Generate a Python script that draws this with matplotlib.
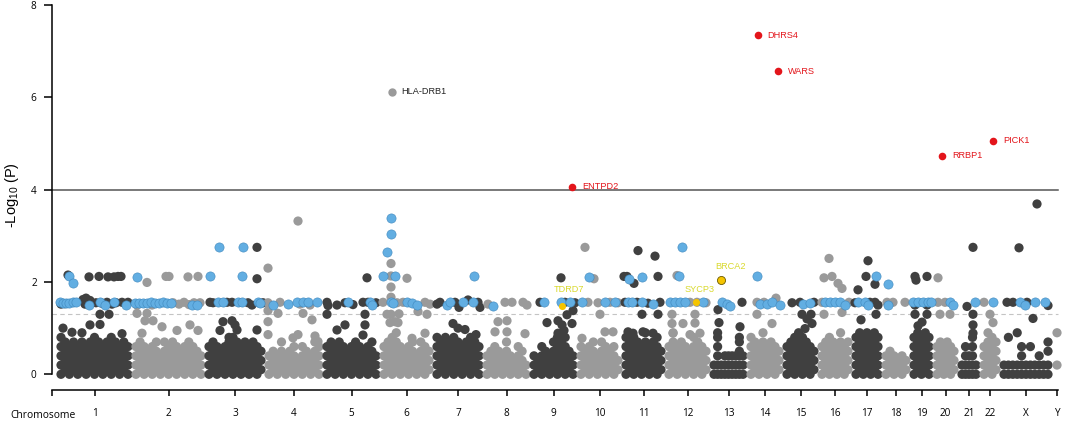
import numpy as np
import matplotlib
matplotlib.use("Agg")
import matplotlib.pyplot as plt

plt.rcParams["font.family"] = ["Liberation Sans", "DejaVu Sans"]
plt.rcParams["mathtext.fontset"] = "custom"
plt.rcParams["mathtext.rm"] = "Liberation Sans"
plt.rcParams["mathtext.it"] = "Liberation Sans:italic"

# chromosomes and their widths along the genome axis
chrom_names = ["1", "2", "3", "4", "5", "6", "7", "8", "9", "10", "11", "12",
               "13", "14", "15", "16", "17", "18", "19", "20", "21", "22", "X", "Y"]
chrom_len = [75, 73, 60, 58, 57, 53, 50, 47, 47, 45, 43, 45,
             37, 36, 35, 34, 30, 28, 23, 25, 22, 20, 52, 10]

# dense low-significance bulk: one string per chromosome, columns split by
# spaces, each digit d is a point at -log10(P) = d / 10
bulk = [
    "02468 1357 0246 1357 0246 13579 0246 1357 02468 1357 0246 1357 02468 1357 0246 1357 0246",
    "0246 1357 0246 135 0246 1357 024 1357 0246 1357 0246 135 0246 1357 0246 135 024",
    "0246 1357 0246 135 0246 13578 02468 1357 0246 1357 0246 1357 0246 135",
    "024 135 024 1357 024 135 0246 13 0246 135 024 1357 0246",
    "0246 1357 0246 1357 0246 135 0246 1357 0246 135 0246 1357 024",
    "0246 1357 02468 13579 0246 135 0246 1357 024 1357 0246 135",
    "02468 1357 02468 1357 02468 1357 0246 1357 02468 1357 0246",
    "024 135 0246 135 024 1357 024 13 0246 135 02",
    "024 13 0246 135 024 1357 02468 1357 02468 135 024",
    "0246 135 0246 1357 024 1357 0246 135 0246 13",
    "02468 1357 02468 1357 0246 13579 0246 1357 02468 135",
    "0246 13579 0246 1357 0246 135 02468 1357 0246 135",
    "02 024689 02 024 024 024 024 024578 024",
    "02468 1357 0246 13579 0246 1357 0246 135",
    "0246 1357 02468 13579 02468 1357 0246 135",
    "0246 1357 02468 1357 0246 13579 0246 1357",
    "02468 13579 02468 13579 02468 13579 02468",
    "024 135 024 13 024 13",
    "02468 13579 02468 13579 02468",
    "0246 1357 0246 1357 0246 135",
    "02 0246 024 02468 02",
    "0246 13579 02468 1357",
    "02 028 02 029 0246 02 026 02 024 02 0257",
    "29",
]

# (chromosome, position in chromosome, -log10 P) for points above the bulk
hits = [
    (1, 11, 2.15), (1, 32, 2.11), (1, 42, 2.12), (1, 51, 2.11), (1, 57, 2.11), (1, 61, 2.12), (1, 64, 2.12),
    (1, 4, 1.52), (1, 8, 1.53), (1, 26, 1.62), (1, 29, 1.65), (1, 33, 1.60), (1, 28, 1.52), (1, 39, 1.55),
    (1, 45, 1.54), (1, 50, 1.56), (1, 55, 1.52), (1, 59, 1.55), (1, 65, 1.56), (1, 69, 1.53), (1, 71, 1.56),
    (1, 43, 1.30), (1, 52, 1.30), (1, 33, 1.07), (1, 43, 1.08), (1, 6, 1.00), (1, 15, 0.91), (1, 65, 0.88),
    (2, 15, 1.99), (2, 34, 2.12), (2, 37, 2.12), (2, 56, 2.11), (2, 66, 2.12),
    (2, 5, 1.50), (2, 20, 1.50), (2, 41, 1.55), (2, 47, 1.52), (2, 52, 1.56), (2, 57, 1.51), (2, 62, 1.55),
    (2, 68, 1.55), (2, 5, 1.32), (2, 15, 1.32), (2, 13, 1.16), (2, 21, 1.16), (2, 30, 1.03), (2, 58, 1.07),
    (2, 45, 0.95), (2, 10, 0.89), (2, 66, 0.95),
    (3, 52, 2.75), (3, 52, 2.07), (3, 5, 1.56), (3, 8, 1.55), (3, 27, 1.56), (3, 43, 1.55), (3, 47, 1.50),
    (3, 58, 1.55), (3, 22, 1.56), (3, 18, 1.14), (3, 15, 0.95), (3, 27, 1.16), (3, 30, 1.07), (3, 32, 0.96),
    (3, 52, 0.96),
    (4, 33, 3.32), (4, 3, 2.30), (4, 3, 1.55), (4, 15, 1.56), (4, 35, 1.52), (4, 45, 1.50), (4, 3, 1.38),
    (4, 13, 1.32), (4, 38, 1.32), (4, 47, 1.18), (4, 3, 1.14), (4, 3, 0.86), (4, 28, 0.79), (4, 33, 0.86),
    (4, 50, 0.83), (4, 53, 0.71),
    (5, 44, 2.09), (5, 4, 1.56), (5, 5, 1.49), (5, 14, 1.50), (5, 22, 1.55), (5, 30, 1.51), (5, 40, 1.56),
    (5, 45, 1.56), (5, 53, 1.55), (5, 4, 1.30), (5, 42, 1.30), (5, 14, 0.96), (5, 22, 1.07), (5, 40, 0.85),
    (5, 42, 1.07),
    (6, 11, 2.40), (6, 11, 2.13), (6, 27, 2.08), (6, 11, 1.89), (6, 11, 1.67), (6, 3, 1.56), (6, 17, 1.55),
    (6, 23, 1.56), (6, 45, 1.56), (6, 50, 1.52), (6, 7, 1.30), (6, 11, 1.30), (6, 15, 1.14), (6, 19, 1.31),
    (6, 10, 1.12), (6, 18, 1.12), (6, 38, 1.36), (6, 47, 1.30), (6, 32, 0.78), (6, 45, 0.89),
    (7, 4, 1.52), (7, 7, 1.56), (7, 22, 1.56), (7, 35, 1.61), (7, 45, 1.56), (7, 47, 1.45), (7, 26, 1.45),
    (7, 20, 1.10), (7, 25, 1.00), (7, 32, 0.97), (7, 43, 0.86),
    (8, 5, 1.52), (8, 22, 1.56), (8, 29, 1.56), (8, 40, 1.56), (8, 44, 1.50), (8, 15, 1.14), (8, 24, 1.16),
    (8, 12, 0.92), (8, 24, 0.92), (8, 42, 0.88),
    (9, 31, 2.09), (9, 10, 1.56), (9, 35, 1.56), (9, 45, 1.55), (9, 43, 1.38), (9, 37, 1.29), (9, 17, 1.12),
    (9, 28, 1.16), (9, 32, 1.07), (9, 42, 1.10), (9, 28, 0.89), (9, 34, 0.95),
    (10, 8, 2.75), (10, 17, 2.07), (10, 11, 1.56), (10, 21, 1.55), (10, 33, 1.56), (10, 41, 1.55),
    (10, 23, 1.30), (10, 5, 0.78), (10, 28, 0.92), (10, 36, 0.92),
    (11, 16, 2.68), (11, 33, 2.56), (11, 2, 2.12), (11, 5, 2.12), (11, 12, 1.97), (11, 36, 2.12),
    (11, 15, 1.56), (11, 26, 1.54), (11, 38, 1.56), (11, 3, 1.56), (11, 20, 1.30), (11, 36, 1.30),
    (11, 6, 0.92), (11, 11, 0.89), (11, 21, 0.92), (11, 31, 0.89),
    (12, 12, 2.14), (12, 25, 1.56), (12, 32, 1.56), (12, 41, 1.55), (12, 7, 1.30), (12, 30, 1.30),
    (12, 18, 1.10), (12, 30, 1.11), (12, 35, 0.89), (12, 7, 1.10), (12, 8, 0.89), (12, 25, 0.86),
    (13, 8, 1.40), (13, 32, 1.56), (13, 9, 1.12), (13, 30, 1.03),
    (14, 10, 1.56), (14, 29, 1.65), (14, 17, 1.56), (14, 10, 1.30), (14, 25, 1.10),
    (15, 17, 1.56), (15, 31, 1.56), (15, 9, 1.55), (15, 19, 1.30), (15, 28, 1.30), (15, 22, 0.99),
    (15, 29, 1.10), (15, 24, 1.20),
    (16, 11, 2.51), (16, 6, 2.09), (16, 14, 2.12), (16, 20, 1.97), (16, 24, 1.86), (16, 4, 1.56),
    (16, 31, 1.56), (16, 6, 1.30), (16, 24, 1.34),
    (17, 16, 2.46), (17, 14, 2.12), (17, 23, 1.95), (17, 6, 1.83), (17, 23, 1.56), (17, 18, 1.56),
    (17, 3, 1.55), (17, 26, 1.50), (17, 24, 1.30), (17, 9, 1.18),
    (18, 11, 1.56), (18, 23, 1.56), (18, 5, 1.56),
    (19, 5, 2.12), (19, 6, 2.04), (19, 17, 2.12), (19, 5, 1.30), (19, 17, 1.30), (19, 8, 1.05),
    (19, 12, 1.13), (19, 5, 1.50), (19, 17, 1.50),
    (20, 5, 2.09), (20, 5, 1.56), (20, 12, 1.56), (20, 7, 1.30), (20, 17, 1.30),
    (21, 15, 2.75), (21, 9, 1.47), (21, 15, 1.30), (21, 15, 1.07), (21, 15, 0.89),
    (22, 4, 1.56), (22, 10, 1.30), (22, 13, 1.12),
    (23, 19, 2.74), (23, 37, 3.69), (23, 7, 1.56), (23, 13, 1.56), (23, 48, 1.49), (23, 33, 1.21),
    (23, 27, 1.56),
]

# highlighted (blue) points
blue_hits = [
    (1, 12, 2.12), (1, 16, 1.97), (1, 3, 1.56), (1, 6, 1.55), (1, 9, 1.55), (1, 12, 1.55), (1, 16, 1.56),
    (1, 19, 1.56), (1, 32, 1.50), (1, 43, 1.56), (1, 48, 1.50), (1, 57, 1.56), (1, 69, 1.51),
    (2, 5, 2.11), (2, 3, 1.55), (2, 7, 1.55), (2, 11, 1.55), (2, 15, 1.55), (2, 19, 1.56), (2, 23, 1.55),
    (2, 27, 1.55), (2, 31, 1.56), (2, 35, 1.55), (2, 39, 1.55), (2, 60, 1.51), (2, 65, 1.50),
    (3, 14, 2.75), (3, 38, 2.76), (3, 5, 2.12), (3, 37, 2.12), (3, 13, 1.56), (3, 18, 1.56), (3, 33, 1.56),
    (3, 37, 1.56), (3, 53, 1.56), (3, 55, 1.55),
    (4, 8, 1.50), (4, 23, 1.52), (4, 32, 1.56), (4, 38, 1.56), (4, 43, 1.56), (4, 52, 1.56),
    (5, 25, 1.56), (5, 47, 1.56), (5, 49, 1.50),
    (6, 11, 3.38), (6, 11, 3.04), (6, 7, 2.64), (6, 3, 2.14), (6, 15, 2.14), (6, 11, 1.56), (6, 13, 1.55),
    (6, 27, 1.56), (6, 32, 1.55), (6, 37, 1.50),
    (7, 41, 2.14), (7, 14, 1.50), (7, 17, 1.56), (7, 30, 1.56), (7, 40, 1.56),
    (8, 10, 1.49),
    (9, 14, 1.56), (9, 31, 1.56), (9, 40, 1.56),
    (10, 12, 2.11), (10, 5, 1.56), (10, 28, 1.56), (10, 38, 1.56),
    (11, 7, 2.07), (11, 20, 2.11), (11, 6, 1.56), (11, 10, 1.56), (11, 20, 1.56), (11, 31, 1.52),
    (12, 17, 2.75), (12, 14, 2.14), (12, 5, 1.56), (12, 10, 1.56), (12, 15, 1.56), (12, 20, 1.56),
    (12, 38, 1.56),
    (13, 12, 1.56), (13, 17, 1.52), (13, 20, 1.49),
    (14, 10, 2.14), (14, 13, 1.52), (14, 20, 1.52), (14, 25, 1.56), (14, 33, 1.50),
    (15, 20, 1.52), (15, 27, 1.54),
    (16, 7, 1.56), (16, 12, 1.56), (16, 17, 1.56), (16, 22, 1.56), (16, 27, 1.51),
    (17, 24, 2.12), (17, 6, 1.56), (17, 13, 1.56), (17, 16, 1.51),
    (18, 6, 1.95), (18, 6, 1.50),
    (19, 3, 1.56), (19, 8, 1.56), (19, 13, 1.56), (19, 18, 1.56), (19, 21, 1.56),
    (20, 17, 1.56), (20, 20, 1.50),
    (21, 17, 1.56),
    (22, 13, 1.56),
    (23, 20, 1.56), (23, 25, 1.50), (23, 35, 1.56), (23, 45, 1.56),
]

# labelled genes
top_genes = ["HLA-DRB1", "ENTPD2", "DHRS4", "WARS", "RRBP1", "PICK1"]
top_chrom = [6, 9, 14, 14, 20, 22]
top_pos = [11.7, 42.3, 10.7, 31.3, 9.0, 13.3]
top_val = [6.12, 4.06, 7.34, 6.57, 4.73, 5.06]

meio_genes = ["TDRD7", "SYCP3", "BRCA2"]
meio_chrom = [9, 12, 13]
meio_pos = [31.7, 30.7, 11.0]
meio_val = [1.48, 1.56, 2.04]

dark = "#404040"
grey = "#9a9a9a"
blue = "#62aee2"
red = "#e3151b"
gold = "#f5c400"
yellow_txt = "#d9d92c"

starts = 5 + np.concatenate([[0], np.cumsum(chrom_len)[:-1]])
mids = starts + np.array(chrom_len) / 2


def chrom_color(c):
    # c is 1-based chromosome number
    return dark if c % 2 == 1 else grey


def gx(c, p):
    return starts[c - 1] + p


fig = plt.figure(figsize=(10.65, 4.22), dpi=100)
ax = fig.add_axes([52 / 1065, (422 - 390.46) / 422, 1010 / 1065, 390.08 / 422])
ax.set_xlim(0, 1010)
ax.set_ylim(-0.35, 8.1)

# bulk points
bx, by, bc = [], [], []
for i, s in enumerate(bulk):
    cols = s.split()
    lo, hi = starts[i] + 4, starts[i] + chrom_len[i] - 4
    xs = [(lo + hi) / 2] if len(cols) == 1 else np.linspace(lo, hi, len(cols))
    for x, col in zip(xs, cols):
        for d in col:
            bx.append(x)
            by.append(int(d) / 10)
            bc.append(chrom_color(i + 1))
ax.scatter(bx, by, s=44, c=bc, linewidths=0, clip_on=False, zorder=2)

# threshold lines
ax.plot([0, 1006], [1.3, 1.3], color="#c4c4c4", lw=0.8, ls=(0, (4, 3)), zorder=1)
ax.plot([0, 1006], [4, 4], color="#555555", lw=1.1, zorder=1)

hx = [gx(c, p) for c, p, v in hits]
hy = [v for c, p, v in hits]
hc = [chrom_color(c) for c, p, v in hits]
ax.scatter(hx, hy, s=44, c=hc, linewidths=0, clip_on=False, zorder=3)

ux = [gx(c, p) for c, p, v in blue_hits]
uy = [v for c, p, v in blue_hits]
ax.scatter(ux, uy, s=44, c=blue, edgecolors="#3f88bd", linewidths=0.4, clip_on=False, zorder=4)

for g, c, p, v in zip(top_genes, top_chrom, top_pos, top_val):
    col = grey if g == "HLA-DRB1" else red
    tcol = "#222222" if g == "HLA-DRB1" else red
    ax.scatter([gx(c, p)], [v], s=30 if col == red else 36, c=col, linewidths=0, zorder=5)
    ax.annotate(g, (gx(c, p), v), xytext=(7.2, 0), textcoords="offset points",
                ha="left", va="center", fontsize=6.6, color=tcol)

meio_offsets = [(5.0, 11.9), (2.9, 8.9), (7.2, 9.6)]
for g, c, p, v, off in zip(meio_genes, meio_chrom, meio_pos, meio_val, meio_offsets):
    edge = "#6b5a00" if g == "BRCA2" else gold
    ax.scatter([gx(c, p)], [v], s=34 if g == "BRCA2" else 26, c=gold,
               edgecolors=edge, linewidths=0.6 if g == "BRCA2" else 0, zorder=5)
    ax.annotate(g, (gx(c, p), v), xytext=off, textcoords="offset points",
                ha="center", va="center", fontsize=6.6, color=yellow_txt)

# axes styling
for side in ["top", "right"]:
    ax.spines[side].set_visible(False)
ax.spines["left"].set_bounds(0, 8)
ax.spines["left"].set_linewidth(1.1)
ax.spines["bottom"].set_position(("data", -0.34))
ax.spines["bottom"].set_bounds(0, 1006)
ax.spines["bottom"].set_linewidth(1.1)

ax.set_yticks([0, 2, 4, 6, 8])
ax.tick_params(axis="y", length=6, width=1.1, pad=5, labelsize=7.2)
ax.set_xticks([0] + list(mids))
ax.set_xticklabels([""] + chrom_names, fontfamily=["Open Sans", "DejaVu Sans"])
for lab in ax.get_yticklabels():
    lab.set_fontfamily(["Open Sans", "DejaVu Sans"])
ax.tick_params(axis="x", length=4.3, width=1.1, pad=9.0, labelsize=7.2)

fig.text(12 / 1065, 1 - 195 / 422, "-Log$_{10}$ (P)", rotation=90,
         ha="center", va="center", fontsize=10.5)
fig.text(43 / 1065, 1 - 416 / 422, "Chromosome", ha="center", va="center",
         fontsize=7.4, fontfamily=["Open Sans", "DejaVu Sans"])

fig.savefig("out.png", dpi=100)
